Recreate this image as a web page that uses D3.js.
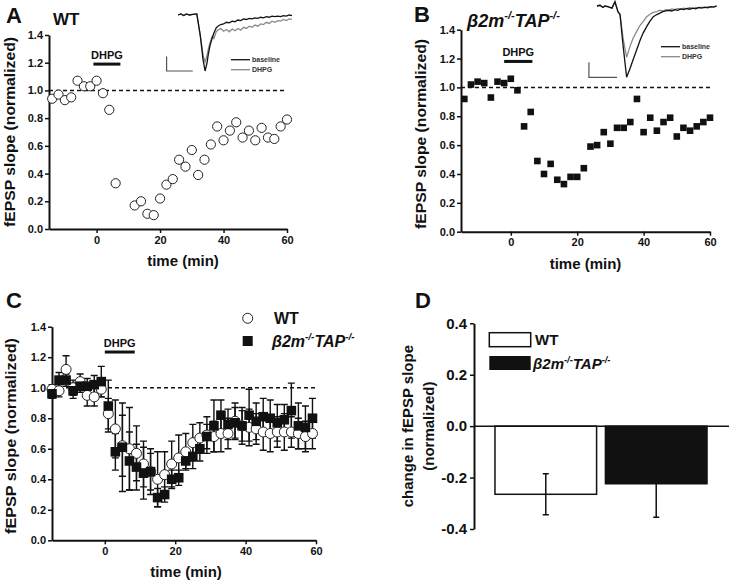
<!DOCTYPE html>
<html>
<head>
<meta charset="utf-8">
<script src="https://cdn.jsdelivr.net/npm/d3@7"></script>
<style>
  body { margin: 0; background: #fff; }
  svg text { font-family: "Liberation Sans", Arial, sans-serif; font-weight: bold; fill: #111; }
</style>
</head>
<body>
<svg id="fig" width="729" height="586"></svg>
<script>
// ---- panel A: WT, single slice ----
const timeA = [-14, -12, -10, -8, -6, -4, -2, 0, 2, 4, 6, 12, 14, 16, 18, 20, 22, 24, 26, 28, 30,
               32, 34, 36, 38, 40, 42, 44, 46, 48, 50, 52, 54, 56, 58, 60];
const slopeA = [0.94, 0.97, 0.93, 0.95, 1.07, 1.03, 1.03, 1.07, 0.98, 0.86, 0.33, 0.17, 0.20, 0.11, 0.10,
                0.22, 0.32, 0.36, 0.50, 0.45, 0.57, 0.39, 0.50, 0.61, 0.74, 0.64, 0.71, 0.77, 0.66, 0.71,
                0.64, 0.73, 0.66, 0.65, 0.74, 0.79];

// ---- panel B: b2m-/-TAP-/-, single slice ----
const timeB = [-14, -12, -10, -8, -6, -4, -2, 0, 2, 4, 6, 8, 10, 12, 14, 16, 18, 20, 22, 24, 26, 28,
               30, 32, 34, 36, 38, 40, 42, 44, 46, 48, 50, 52, 54, 56, 58, 60];
const slopeB = [0.92, 1.02, 1.04, 1.03, 0.93, 1.04, 1.03, 1.06, 0.98, 0.73, 0.83, 0.49, 0.40, 0.47, 0.36,
                0.33, 0.38, 0.38, 0.44, 0.59, 0.60, 0.69, 0.61, 0.72, 0.72, 0.76, 0.92, 0.69, 0.79, 0.70,
                0.76, 0.79, 0.66, 0.72, 0.70, 0.73, 0.76, 0.79];

// ---- panel C: group means +/- SEM ----
const timeC = [-15, -13, -11, -9, -7, -5, -3, -1, 1, 3, 5, 7, 9, 11, 13, 15, 17, 19, 21, 23, 25, 27,
               29, 31, 33, 35, 37, 39, 41, 43, 45, 47, 49, 51, 53, 55, 57, 59];
const wtMean = [0.99, 0.98, 1.12, 1.00, 1.04, 0.95, 0.94, 0.99, 0.83, 0.73, 0.62, 0.60, 0.57, 0.50, 0.45,
                0.40, 0.43, 0.50, 0.54, 0.58, 0.64, 0.67, 0.69, 0.68, 0.70, 0.70, 0.78, 0.75, 0.74, 0.73,
                0.71, 0.70, 0.71, 0.71, 0.71, 0.70, 0.68, 0.70];
const wtSem = [0.03, 0.04, 0.09, 0.05, 0.05, 0.07, 0.06, 0.05, 0.10, 0.19, 0.20, 0.27, 0.18, 0.15, 0.15,
               0.18, 0.15, 0.15, 0.15, 0.12, 0.12, 0.10, 0.12, 0.10, 0.12, 0.10, 0.12, 0.12, 0.12, 0.10,
               0.12, 0.12, 0.10, 0.12, 0.10, 0.10, 0.10, 0.10];
const koMean = [0.96, 1.05, 1.05, 0.98, 1.01, 1.01, 1.02, 1.04, 0.88, 0.58, 0.61, 0.52, 0.48, 0.44, 0.45,
                0.28, 0.30, 0.40, 0.41, 0.52, 0.55, 0.60, 0.68, 0.75, 0.82, 0.76, 0.77, 0.75, 0.82, 0.78,
                0.81, 0.80, 0.77, 0.79, 0.85, 0.75, 0.74, 0.80];
const koSem = [0.03, 0.05, 0.04, 0.05, 0.04, 0.05, 0.06, 0.10, 0.17, 0.12, 0.29, 0.19, 0.15, 0.17, 0.12,
               0.06, 0.05, 0.06, 0.05, 0.05, 0.08, 0.08, 0.08, 0.17, 0.10, 0.10, 0.10, 0.10, 0.17, 0.12,
               0.12, 0.12, 0.12, 0.10, 0.18, 0.15, 0.14, 0.13];

// ---- panel D: change in slope ----
const groupsD = ["WT", "KO"];
const changeD = [-0.265, -0.224];
const semD = [0.08, 0.13];

// ---- inset traces (ms, normalised amplitude) ----
const traceTimeA = [0, 0.5, 1, 1.5, 2, 2.6, 3.3, 3.9, 4.4, 4.75, 5.1, 5.3, 5.6, 6, 6.3, 6.7, 7, 7.5, 8, 8.5,
                    9, 9.5, 10, 10.5, 11, 11.5, 12, 12.5, 13, 13.5, 14, 14.5, 15, 15.5, 16, 16.5, 17, 17.5,
                    18, 18.5, 19, 19.5, 20];
const traceBaseA = [0, 0.02, -0.01, 0.02, 0, 0.01, 0.02, -0.36, -0.8, -1.0, -0.85, -0.71, -0.55, -0.41, -0.32,
                    -0.23, -0.2, -0.17, -0.16, -0.13, -0.14, -0.11, -0.12, -0.09, -0.1, -0.07, -0.08, -0.06,
                    -0.07, -0.05, -0.06, -0.04, -0.05, -0.03, -0.04, -0.02, -0.03, -0.02, -0.03, -0.01, -0.02, 0, -0.01];
const traceDhpgA = [0, 0.02, -0.01, 0.02, 0, 0.01, 0.02, -0.36, -0.72, -0.84, -0.72, -0.62, -0.5, -0.38, -0.42,
                    -0.3, -0.27, -0.24, -0.29, -0.26, -0.3, -0.25, -0.28, -0.24, -0.27, -0.22, -0.24, -0.2,
                    -0.22, -0.18, -0.2, -0.16, -0.17, -0.13, -0.15, -0.11, -0.13, -0.1, -0.11, -0.08, -0.1, -0.07, -0.08];
const traceTimeB = [0, 0.5, 1, 1.3, 1.8, 2.5, 3, 3.5, 3.85, 4.35, 4.95, 5.5, 6, 6.6, 7.2, 7.7, 8.3, 8.8, 9.4,
                    10, 10.5, 11, 11.5, 12, 12.5, 13, 13.5, 14, 14.5, 15, 15.5, 16, 16.5, 17, 17.5, 18, 18.5,
                    19, 19.5, 20];
const traceBaseB = [0, 0.01, -0.02, 0, -0.01, -0.03, 0.06, -0.08, -0.12, -0.55, -1.0, -0.88, -0.76, -0.62, -0.48,
                    -0.38, -0.29, -0.22, -0.15, -0.12, -0.1, -0.08, -0.07, -0.06, -0.07, -0.05, -0.06, -0.04,
                    -0.05, -0.035, -0.045, -0.03, -0.04, -0.02, -0.03, -0.015, -0.025, -0.01, -0.015, 0];
const traceDhpgB = [0, 0.01, -0.02, 0, -0.01, -0.03, 0.06, -0.08, -0.12, -0.45, -0.72, -0.57, -0.46, -0.36, -0.27,
                    -0.22, -0.15, -0.12, -0.09, -0.08, -0.06, -0.07, -0.05, -0.06, -0.04, -0.05, -0.035, -0.045,
                    -0.03, -0.04, -0.02, -0.035, -0.02, -0.03, -0.015, -0.025, -0.01, -0.02, -0.01, 0];

// ---- shared ticks / labels ----
const slopeTicks = [0, 0.2, 0.4, 0.6, 0.8, 1.0, 1.2, 1.4];
const timeTicks = [0, 20, 40, 60];
const changeTicks = [-0.4, -0.2, 0.0, 0.2, 0.4];
const dhpgA = [-1, 7.5], dhpgB = [-2, 6.5], dhpgC = [0, 8.5];

const svg = d3.select("#fig");
svg.append("rect").attr("width", 729).attr("height", 586).attr("fill", "#fff");

// bold-italic genotype label with superscripts
function geno(sel, size) {
  sel.attr("font-style", "italic").attr("font-size", size);
  sel.append("tspan").text("β2m");
  sel.append("tspan").attr("font-size", size * 0.62).attr("dy", -size * 0.42).text("-/-");
  sel.append("tspan").attr("dy", size * 0.42).text("TAP");
  sel.append("tspan").attr("font-size", size * 0.62).attr("dy", -size * 0.42).text("-/-");
}

function styleAxis(g, fs) {
  g.attr("font-family", null).attr("font-size", fs);
  g.select(".domain").attr("stroke", "#111").attr("stroke-width", 2);
  g.selectAll(".tick line").attr("stroke", "#111").attr("stroke-width", 1.5);
  g.selectAll(".tick text").attr("fill", "#111");
}

function timePanel(box) {
  const x = d3.scaleLinear().domain([-15, 60]).range([box.x0, box.x1]);
  const y = d3.scaleLinear().domain([0, 1.4]).range([box.y0, box.y1]);
  const g = svg.append("g");

  // dashed baseline
  g.append("line")
    .attr("x1", x(-15)).attr("x2", x(60)).attr("y1", y(1)).attr("y2", y(1))
    .attr("stroke", "#111").attr("stroke-width", 1.5).attr("stroke-dasharray", "4,3");

  g.append("g").attr("transform", `translate(0,${box.y0})`)
    .call(d3.axisBottom(x).tickValues(timeTicks).tickSize(4).tickSizeOuter(0).tickPadding(3))
    .call(a => styleAxis(a, 11));
  g.append("g").attr("transform", `translate(${box.x0},0)`)
    .call(d3.axisLeft(y).tickValues(slopeTicks).tickFormat(d => d.toFixed(1)).tickSize(4).tickSizeOuter(0).tickPadding(2))
    .call(a => styleAxis(a, 11));

  g.append("text").attr("x", (box.x0 + box.x1) / 2 + box.titleShift).attr("y", box.y0 + 37)
    .attr("text-anchor", "middle").attr("font-size", 15).text("time (min)");
  g.append("text")
    .attr("transform", `translate(${box.ylabX},${box.ylabY}) rotate(-90)`)
    .attr("text-anchor", "middle").attr("dy", "0.35em").attr("font-size", 15.5)
    .attr("textLength", box.ylabLen).attr("lengthAdjust", "spacingAndGlyphs")
    .text("fEPSP slope (normalized)");

  // DHPG application bar
  g.append("line")
    .attr("x1", x(box.dhpg[0])).attr("x2", x(box.dhpg[1]))
    .attr("y1", y(box.dhpgLevel)).attr("y2", y(box.dhpgLevel))
    .attr("stroke", "#111").attr("stroke-width", 3);
  g.append("text").attr("x", (x(box.dhpg[0]) + x(box.dhpg[1])) / 2).attr("y", y(box.dhpgLevel) - 5)
    .attr("text-anchor", "middle").attr("font-size", 11).text("DHPG");
  return { g, x, y };
}

function inset(box, t, base, dhpg, bar) {
  const x = d3.scaleLinear().domain([0, 20]).range([box.x0, box.x1]);
  const y = d3.scaleLinear().domain([-1, 0]).range([box.y0, box.y1]);
  const line = d3.line().x((d, i) => x(t[i])).y(d => y(d));
  svg.append("path").attr("d", line(dhpg)).attr("fill", "none").attr("stroke", "#8a8a8a").attr("stroke-width", 1.3);
  svg.append("path").attr("d", line(base)).attr("fill", "none").attr("stroke", "#111").attr("stroke-width", 1.3);
  // scale bar
  const c = [x(bar.t0), y(-1)];
  svg.append("path")
    .attr("d", `M${c[0]},${y(-1 + bar.amp)}V${c[1]}H${x(bar.t0 + bar.ms)}`)
    .attr("fill", "none").attr("stroke", "#555").attr("stroke-width", 1.2);
  // legend
  [["baseline", "#111"], ["DHPG", "#8a8a8a"]].forEach(([lab, col], i) => {
    const yy = box.legY + i * 10;
    svg.append("line").attr("x1", box.legX).attr("x2", box.legX + 19).attr("y1", yy).attr("y2", yy)
      .attr("stroke", col).attr("stroke-width", 1.3);
    svg.append("text").attr("x", box.legX + 21).attr("y", yy + 2.5).attr("font-size", 7)
      .style("fill", "#333").text(lab);
  });
}

// ===== Panel A =====
const A = timePanel({ x0: 49, x1: 287, y0: 229, y1: 35, titleShift: 15, ylabX: 10, ylabY: 132, ylabLen: 190,
                      dhpg: dhpgA, dhpgLevel: 1.19 });
A.g.selectAll(".ptA").data(timeA).enter().append("circle")
  .attr("cx", d => A.x(d)).attr("cy", (d, i) => A.y(slopeA[i])).attr("r", 4.6)
  .attr("fill", "#fff").attr("stroke", "#222").attr("stroke-width", 1);
svg.append("text").attr("x", 6).attr("y", 23).attr("font-size", 22).text("A");
svg.append("text").attr("x", 53).attr("y", 25).attr("font-size", 17).text("WT");
inset({ x0: 178, x1: 292, y0: 71, y1: 15, legX: 231, legY: 59.7 },
      traceTimeA, traceBaseA, traceDhpgA, { t0: -2, ms: 4.6, amp: 0.26 });

// ===== Panel B =====
const B = timePanel({ x0: 461, x1: 710, y0: 231.7, y1: 29.7, titleShift: 0, ylabX: 421, ylabY: 134, ylabLen: 190,
                      dhpg: dhpgB, dhpgLevel: 1.18 });
B.g.selectAll(".ptB").data(timeB).enter().append("rect")
  .attr("x", d => B.x(d) - 3.3).attr("y", (d, i) => B.y(slopeB[i]) - 3.3)
  .attr("width", 6.6).attr("height", 6.6).attr("fill", "#111");
svg.append("text").attr("x", 414).attr("y", 22).attr("font-size", 22).text("B");
svg.append("text").attr("x", 467).attr("y", 27).call(s => geno(s, 18));
inset({ x0: 597, x1: 716.7, y0: 77.3, y1: 6, legX: 661, legY: 46.7 },
      traceTimeB, traceBaseB, traceDhpgB, { t0: -1.35, ms: 4.7, amp: 0.21 });

// ===== Panel C =====
const C = timePanel({ x0: 52, x1: 316, y0: 540.3, y1: 326.7, titleShift: 2, ylabX: 10.5, ylabY: 436, ylabLen: 196,
                      dhpg: dhpgC, dhpgLevel: 1.234 });
function errBars(mean, sem) {
  timeC.forEach((t, i) => {
    const xx = C.x(t), lo = C.y(mean[i] - sem[i]), hi = C.y(mean[i] + sem[i]);
    C.g.append("path").attr("d", `M${xx},${lo}V${hi}M${xx - 3.5},${lo}H${xx + 3.5}M${xx - 3.5},${hi}H${xx + 3.5}`)
      .attr("stroke", "#111").attr("stroke-width", 1.4).attr("fill", "none");
  });
}
errBars(wtMean, wtSem);
errBars(koMean, koSem);
C.g.selectAll(".wt").data(timeC).enter().append("circle")
  .attr("cx", d => C.x(d)).attr("cy", (d, i) => C.y(wtMean[i])).attr("r", 5)
  .attr("fill", "#fff").attr("stroke", "#222").attr("stroke-width", 1);
C.g.selectAll(".ko").data(timeC).enter().append("rect")
  .attr("x", d => C.x(d) - 4.8).attr("y", (d, i) => C.y(koMean[i]) - 4.8)
  .attr("width", 9.6).attr("height", 9.6).attr("fill", "#111");
svg.append("text").attr("x", 6).attr("y", 308).attr("font-size", 22).text("C");
svg.append("circle").attr("cx", 247.7).attr("cy", 318.3).attr("r", 5)
  .attr("fill", "#fff").attr("stroke", "#222").attr("stroke-width", 1);
svg.append("text").attr("x", 274).attr("y", 324).attr("font-size", 16).text("WT");
svg.append("rect").attr("x", 242.7).attr("y", 336).attr("width", 10).attr("height", 10).attr("fill", "#111");
svg.append("text").attr("x", 272).attr("y", 347).call(s => geno(s, 16));

// ===== Panel D =====
const xD = d3.scaleBand().domain(groupsD).range([474, 728]).paddingInner(0.08).paddingOuter(0.19);
const yD = d3.scaleLinear().domain([-0.4, 0.4]).range([529, 323.3]);
const gD = svg.append("g");
gD.append("g").attr("transform", "translate(474,0)")
  .call(d3.axisLeft(yD).tickValues(changeTicks).tickFormat(d => d.toFixed(1)).tickSize(4).tickSizeOuter(0).tickPadding(3))
  .call(a => styleAxis(a, 15));
gD.selectAll(".bar").data(groupsD).enter().append("rect")
  .attr("x", d => xD(d)).attr("width", xD.bandwidth())
  .attr("y", yD(0)).attr("height", (d, i) => yD(changeD[i]) - yD(0))
  .attr("fill", (d, i) => i === 0 ? "#fff" : "#111").attr("stroke", "#111").attr("stroke-width", 1.5);
groupsD.forEach((d, i) => {
  const xx = xD(d) + xD.bandwidth() / 2;
  const lo = yD(changeD[i] - semD[i]), hi = yD(changeD[i] + semD[i]);
  gD.append("path").attr("d", `M${xx},${lo}V${hi}M${xx - 3},${lo}H${xx + 3}M${xx - 3},${hi}H${xx + 3}`)
    .attr("stroke", "#111").attr("stroke-width", 1.5).attr("fill", "none");
});
gD.append("line").attr("x1", 474).attr("x2", 729).attr("y1", yD(0)).attr("y2", yD(0))
  .attr("stroke", "#111").attr("stroke-width", 1.5);
gD.append("text").attr("transform", `translate(408,${(529 + 323.3) / 2}) rotate(-90)`)
  .attr("text-anchor", "middle").attr("dy", "0.35em").attr("font-size", 15).text("change in fEPSP slope");
gD.append("text").attr("transform", `translate(428.5,${(529 + 323.3) / 2}) rotate(-90)`)
  .attr("text-anchor", "middle").attr("dy", "0.35em").attr("font-size", 15).text("(normalized)");
svg.append("text").attr("x", 415).attr("y", 308).attr("font-size", 22).text("D");
svg.append("rect").attr("x", 489.3).attr("y", 332.7).attr("width", 41.4).attr("height", 14)
  .attr("fill", "#fff").attr("stroke", "#111").attr("stroke-width", 1.5);
svg.append("text").attr("x", 535).attr("y", 345).attr("font-size", 15).text("WT");
svg.append("rect").attr("x", 489.3).attr("y", 356).attr("width", 41.4).attr("height", 14).attr("fill", "#111");
svg.append("text").attr("x", 533).attr("y", 369).call(s => geno(s, 15));
</script>
</body>
</html>
